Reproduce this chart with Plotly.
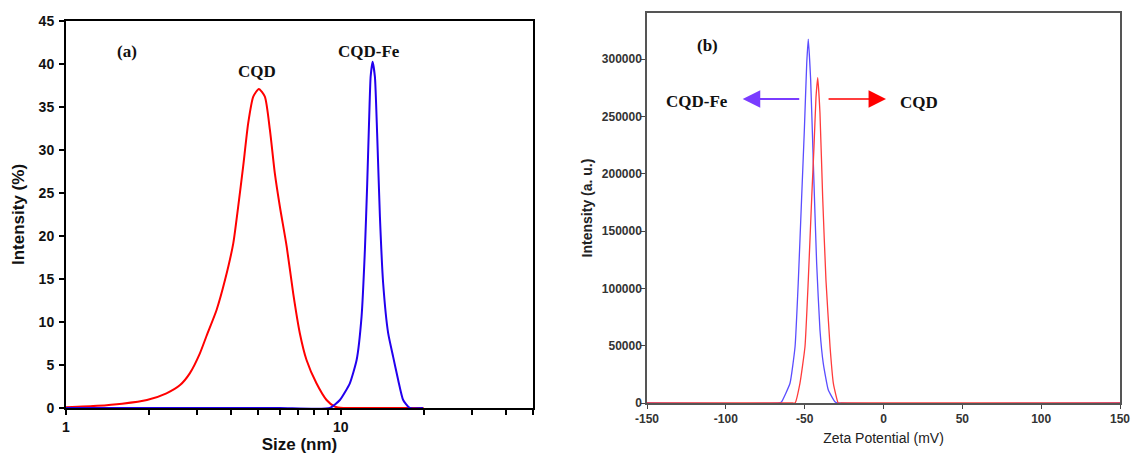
import math
import plotly.graph_objects as go

# ---- Panel (a): DLS size distribution ----
cqd_size = [1.0, 1.3, 1.6, 1.97, 2.32, 2.6, 2.82, 3.07, 3.247, 3.53, 3.79, 4.06, 4.23, 4.41, 4.6, 4.8, 5.03,
            5.29, 5.52, 5.75, 6.0, 6.35, 6.71, 7.09, 7.5, 8.15, 8.87, 9.51, 10.2, 12.0, 15.0, 20.0]
cqd_int = [0.08, 0.25, 0.5, 0.93, 1.71, 2.67, 4.03, 6.36, 8.4, 11.4, 14.9, 19.15, 23.4, 28.06, 33.1, 36.2, 37.1,
           36.2, 32.3, 27.3, 23.4, 18.8, 13.3, 8.7, 5.58, 2.87, 0.93, 0.15, 0.0, 0.0, 0.0, 0.0]
fe_size = [1.0, 3.0, 6.0, 9.12, 9.92, 10.78, 11.41, 11.89, 12.23, 12.47, 12.68, 12.83, 13.04, 13.3,
           13.55, 13.87, 14.25, 14.86, 15.49, 16.16, 16.85, 17.8, 19.9]
fe_int = [0.0, 0.0, 0.0, 0.0, 0.93, 2.87, 5.58, 10.6, 18.4, 26.1, 33.9, 38.5, 40.27, 38.5,
          31.9, 22.2, 14.5, 8.7, 5.97, 3.26, 0.93, 0.0, 0.0]
size_tickvals = [1, 2, 3, 4, 5, 6, 7, 8, 9, 10, 20, 30, 40, 50]
size_ticktext = ["<b>1</b>", "", "", "", "", "", "", "", "", "<b>10</b>", "", "", "", ""]

# ---- Panel (b): zeta potential ----
fe_zeta = [-150, -66.0, -64.6, -59.3, -56.1, -54.0, -51.9, -50.2, -48.7, -47.7, -46.2, -44.5, -42.4,
           -40.3, -38.2, -35.0, -30.8, -29.0, 150]
fe_zint = [0, 0, 1130, 17200, 49100, 107300, 180000, 238000, 296000, 317400, 281700, 209000, 121800,
           63700, 34600, 11300, 1100, 0, 0]
cqd_zeta = [-150, -57.5, -56.1, -53.0, -49.8, -47.7, -45.5, -44.1, -42.8, -41.7, -40.3, -38.6, -36.5,
            -33.9, -31.8, -28.7, -27.0, 150]
cqd_zint = [0, 0, 0, 17200, 49100, 107300, 180000, 223000, 267000, 283700, 253000, 180000, 107300,
            49100, 17200, 0, 0, 0]
zeta_tickvals = [0, 50000, 100000, 150000, 200000, 250000, 300000]
potential_tickvals = [-150, -100, -50, 0, 50, 100, 150]

W, H = 1131, 454
def px_x(a, b):
    return [a / W, b / W]
def px_y(top, bottom):
    return [(H - bottom) / H, (H - top) / H]

fig = go.Figure()
fig.add_trace(go.Scatter(x=cqd_size, y=cqd_int, mode="lines", line=dict(color="#ff0000", width=2, shape="spline", smoothing=0.6),
                         xaxis="x", yaxis="y", showlegend=False))
fig.add_trace(go.Scatter(x=fe_size, y=fe_int, mode="lines", line=dict(color="#2200ee", width=2, shape="spline", smoothing=0.5),
                         xaxis="x", yaxis="y", showlegend=False))
fig.add_trace(go.Scatter(x=fe_zeta, y=fe_zint, mode="lines", line=dict(color="#5a4dff", width=1.3, shape="spline", smoothing=0.4),
                         xaxis="x2", yaxis="y2", showlegend=False))
fig.add_trace(go.Scatter(x=cqd_zeta, y=cqd_zint, mode="lines", line=dict(color="#ff3b3b", width=1.3, shape="spline", smoothing=0.4),
                         xaxis="x2", yaxis="y2", showlegend=False))

arial = "Liberation Sans, Arial, sans-serif"
serif = dict(family="Liberation Serif, Times New Roman, serif", size=17, color="#111")

fig.update_layout(
    width=W, height=H, plot_bgcolor="white", paper_bgcolor="white",
    margin=dict(l=0, r=0, t=0, b=0),
    xaxis=dict(domain=px_x(66, 533), type="log", range=[0, 1.69897], tickvals=size_tickvals, ticktext=size_ticktext,
               ticks="outside", ticklen=5, tickwidth=1.5, tickcolor="black", showline=True, linecolor="black",
               linewidth=2, mirror=True, showgrid=False, zeroline=False, automargin=False,
               tickfont=dict(family=arial, size=14, color="#111"),
               title=dict(text="<b>Size (nm)</b>", font=dict(family=arial, size=17, color="#111"), standoff=4)),
    yaxis=dict(domain=px_y(21, 408), range=[0, 45], dtick=5, ticks="outside", ticklen=5, tickwidth=1.5, tickcolor="black",
               showline=True, linecolor="black", linewidth=2, mirror=True, showgrid=False, zeroline=False, automargin=False,
               tickfont=dict(family=arial, size=14, color="#111"), tickprefix="<b>", ticksuffix="</b>", ticklabelstandoff=2,
               title=dict(text="<b>Intensity (%)</b>", font=dict(family=arial, size=17, color="#111"), standoff=10)),
    xaxis2=dict(domain=px_x(647, 1120), anchor="y2", range=[-150, 150], tickvals=potential_tickvals,
                ticktext=["<b>%d</b>" % v for v in potential_tickvals], ticks="outside", ticklen=4, tickwidth=1,
                tickcolor="#444", showline=True, linecolor="#555", linewidth=1.5, mirror=True, showgrid=False, zeroline=False,
                automargin=False, tickfont=dict(family=arial, size=12, color="#333"),
                title=dict(text="Zeta Potential (mV)", font=dict(family=arial, size=14, color="#222"), standoff=8)),
    yaxis2=dict(domain=px_y(13, 403), anchor="x2", range=[0, 340116], tickvals=zeta_tickvals,
                ticktext=["<b>%d</b>" % v for v in zeta_tickvals],
                ticks="outside", ticklen=4, tickwidth=1, tickcolor="#444", showline=True, linecolor="#555", linewidth=1.5,
                mirror=True, showgrid=False, zeroline=False, automargin=False, ticklabelstandoff=-3,
                tickfont=dict(family=arial, size=12, color="#333"),
                title=dict(text="<b>Intensity (a. u.)</b>", font=dict(family=arial, size=14, color="#222"), standoff=6)),
)

ann = [
    dict(x=math.log10(1.67), y=41.5, xref="x", yref="y", text="<b>(a)</b>", showarrow=False, font=serif),
    dict(x=math.log10(4.95), y=39.1, xref="x", yref="y", text="<b>CQD</b>", showarrow=False, font=serif),
    dict(x=math.log10(12.7), y=41.4, xref="x", yref="y", text="<b>CQD-Fe</b>", showarrow=False, font=serif),
    dict(x=-111.6, y=312200, xref="x2", yref="y2", text="<b>(b)</b>", showarrow=False, font=serif),
    dict(x=-118, y=263000, xref="x2", yref="y2", text="<b>CQD-Fe</b>", showarrow=False, font=serif),
    dict(x=22.5, y=262000, xref="x2", yref="y2", text="<b>CQD</b>", showarrow=False, font=serif),
    dict(x=-89.3, y=265100, ax=-52.5, ay=265100, xref="x2", yref="y2", axref="x2", ayref="y2", text="",
         showarrow=True, arrowhead=2, arrowsize=1.95, arrowwidth=1.8, arrowcolor="#7a3cff"),
    dict(x=1.6, y=265100, ax=-35.8, ay=265100, xref="x2", yref="y2", axref="x2", ayref="y2", text="",
         showarrow=True, arrowhead=2, arrowsize=2.33, arrowwidth=1.5, arrowcolor="#ff0000"),
]
fig.update_layout(annotations=ann)
fig.write_html("out.html", config={"displayModeBar": False},
               post_script="document.body.style.margin='0';")
